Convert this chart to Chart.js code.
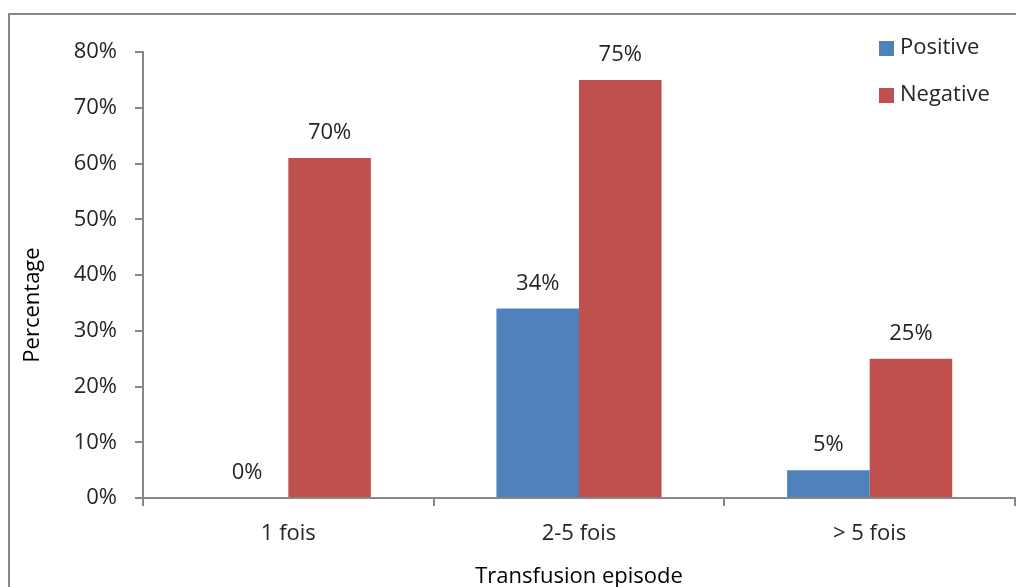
<!DOCTYPE html>
<html>
<head>
<meta charset="utf-8">
<script src="https://cdn.jsdelivr.net/npm/chart.js@4.4.1/dist/chart.umd.min.js"></script>
<style>
    html, body { margin: 0; padding: 0; background: #ffffff; }
    #wrap { width: 1016px; height: 587px; }
</style>
</head>
<body>
<div id="wrap"><canvas id="chart" width="1016" height="587"></canvas></div>
<script>
const categories     = ['1 fois', '2-5 fois', '> 5 fois'];
const seriesNames    = ['Positive', 'Negative'];
const positiveValues = [0, 34, 5];
const negativeValues = [61, 75, 25];
const positiveLabels = ['0%', '34%', '5%'];
const negativeLabels = ['70%', '75%', '25%'];
const yTickValues    = [0, 10, 20, 30, 40, 50, 60, 70, 80];

const BLUE  = '#4F81BD';
const RED   = '#C0504D';
const GREY  = '#878787';
const TEXT  = '#262626';
const FONT  = "'Open Sans', 'Noto Sans', sans-serif";

const barLabels = [positiveLabels, negativeLabels];

// labels above bars, legend, frame and axis titles
const extras = {
    id: 'extras',
    beforeDraw(chart) {
        const ctx = chart.ctx;
        ctx.save();
        ctx.strokeStyle = GREY;
        ctx.lineWidth = 2;
        ctx.beginPath();
        ctx.moveTo(9, 587);
        ctx.lineTo(9, 14);
        ctx.lineTo(1016, 14);
        ctx.stroke();
        ctx.restore();
    },
    afterDatasetsDraw(chart) {
        const ctx = chart.ctx;
        ctx.save();
        ctx.font = '22px ' + FONT;
        ctx.fillStyle = TEXT;
        ctx.textAlign = 'center';
        ctx.textBaseline = 'middle';
        chart.data.datasets.forEach((ds, i) => {
            chart.getDatasetMeta(i).data.forEach((bar, j) => {
                ctx.fillText(barLabels[i][j], bar.x, bar.y - 25);
            });
        });

        // legend
        const colors = [BLUE, RED];
        ctx.textAlign = 'left';
        seriesNames.forEach((name, i) => {
            const y = 48 + i * 47;
            ctx.fillStyle = colors[i];
            ctx.fillRect(879, y - 7, 15, 15);
            ctx.fillStyle = TEXT;
            ctx.fillText(name, 900, y);
        });

        // axis titles
        ctx.fillStyle = '#000000';
        ctx.textAlign = 'center';
        ctx.fillText('Transfusion episode', (chart.chartArea.left + chart.chartArea.right) / 2, 577);
        ctx.translate(33, 305);
        ctx.rotate(-Math.PI / 2);
        ctx.fillText('Percentage', 0, 0);
        ctx.restore();
    }
};

new Chart(document.getElementById('chart'), {
    type: 'bar',
    data: {
        labels: categories,
        datasets: [
            { label: seriesNames[0], data: positiveValues, backgroundColor: BLUE },
            { label: seriesNames[1], data: negativeValues, backgroundColor: RED }
        ]
    },
    options: {
        responsive: false,
        animation: false,
        devicePixelRatio: 1,
        categoryPercentage: 0.568,
        barPercentage: 1,
        layout: { padding: { top: 52, right: 1, left: 0, bottom: 0 } },
        plugins: { legend: { display: false }, tooltip: { enabled: false } },
        scales: {
            x: {
                afterFit: scale => { scale.height = 89; },
                grid: { offset: true, drawOnChartArea: false, tickLength: 8, color: GREY, lineWidth: 2 },
                border: { color: GREY, width: 2 },
                ticks: { padding: 15, color: TEXT, font: { family: FONT, size: 22 } }
            },
            y: {
                min: 0,
                max: 80,
                afterFit: scale => { scale.width = 143; },
                afterBuildTicks: scale => { scale.ticks = yTickValues.map(v => ({ value: v })); },
                grid: { drawOnChartArea: false, tickLength: 8, color: GREY, lineWidth: 2 },
                border: { color: GREY, width: 2 },
                ticks: { padding: 18, color: TEXT, font: { family: FONT, size: 22 }, callback: v => v + '%' }
            }
        }
    },
    plugins: [extras]
});
</script>
</body>
</html>
